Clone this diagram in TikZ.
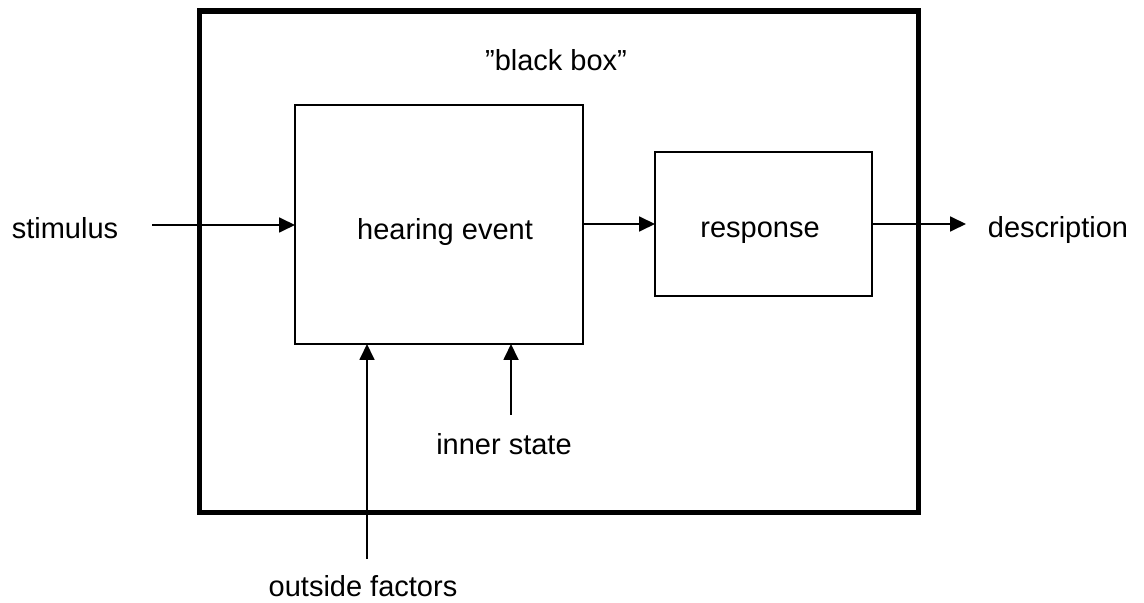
\documentclass[tikz,border=0pt]{standalone}
\usepackage{fontspec}
\setmainfont{Liberation Sans}
\usetikzlibrary{arrows.meta}
\begin{document}
\begin{tikzpicture}[x=0.5pt,y=-0.5pt,
  thinbox/.style={draw, line width=0.9pt, inner sep=0pt, outer sep=0pt},
  thickbox/.style={draw, line width=2.75pt, inner sep=0pt, outer sep=0pt},
  lbl/.style={font=\fontsize{14.5}{17}\selectfont, anchor=base, inner sep=0pt},
  arr/.style={-{Triangle[length=8pt,width=7.5pt]}, line width=0.9pt}]
\useasboundingbox (0,0) rectangle (1144,603);
% boxes
\node[thickbox, minimum width=359.5pt, minimum height=250.75pt] (outer) at (559,261.75) {};
\node[thinbox, minimum width=144pt, minimum height=119.5pt] (hear) at (439,224.5) {};
\node[thinbox, minimum width=108.5pt, minimum height=72pt] (resp) at (763.5,224) {};
% labels
\node[lbl] (bb) at (556,71) {”black box”};
\node[lbl] (hearlbl) at (445,240) {hearing event};
\node[lbl] (resplbl) at (760,238) {response};
\node[lbl] (stim) at (65,239) {stimulus};
\node[lbl] (desc) at (1058,238) {description};
\node[lbl] (inner) at (504,454) {inner state};
\node[lbl] (outside) at (363,596) {outside factors};
% connector ends
\coordinate (s0) at (152,225);
\coordinate (d0) at (966,224);
\coordinate (o0) at (367,559);
\coordinate (i0) at (511,415);
% connectors
\draw[arr] (s0) -- (s0 -| hear.west);
\draw[arr] (resp.west -| hear.east) -- (resp.west);
\draw[arr] (resp.east) -- (d0);
\draw[arr] (o0) -- (o0 |- hear.south);
\draw[arr] (i0) -- (i0 |- hear.south);
\end{tikzpicture}
\end{document}
